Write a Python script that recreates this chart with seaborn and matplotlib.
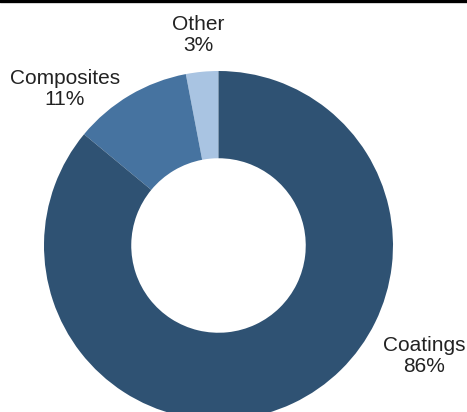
import matplotlib
matplotlib.use("Agg")
import matplotlib.pyplot as plt
import seaborn as sns

categories = ["Other", "Composites", "Coatings"]
shares = [3, 11, 86]
colors = ["#A9C4E2", "#4673A0", "#2F5273"]

sns.set_theme(style="white")
plt.rcParams['font.family'] = ['Liberation Sans', 'DejaVu Sans']

W, H = 467, 412
fig = plt.figure(figsize=(W / 100, H / 100), dpi=100)
ax = fig.add_axes([0, 0, 1, 1])

cx, cy, r = 218.5, H - 245.5, 174.5
ax.pie(shares, colors=colors, startangle=90, counterclock=True,
       center=(cx, cy), radius=r, frame=True,
       wedgeprops=dict(width=r * 0.5, edgecolor='none', linewidth=0))
ax.set_xlim(0, W)
ax.set_ylim(0, H)
ax.set_aspect('equal')
ax.axis('off')

label_pos = {"Other": (198, H - 35), "Composites": (65, H - 89), "Coatings": (424, H - 356)}
for cat, val in zip(categories, shares):
    x, y = label_pos[cat]
    ax.text(x, y, f"{cat}\n{val}%", ha='center', va='center', fontsize=15,
            color='#222222', linespacing=1.12)

ax.axhline(H - 1.2, color='black', lw=2.4, xmin=0, xmax=1)

fig.savefig("out.png", dpi=100)
